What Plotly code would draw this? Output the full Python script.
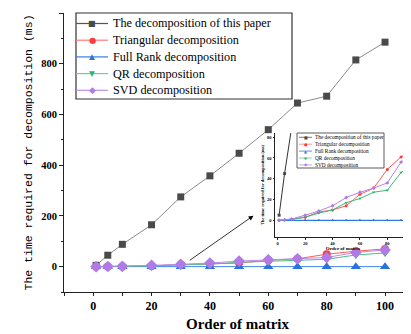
import plotly.graph_objects as go

# ---------------- data ----------------
order = [1, 5, 10, 20, 30, 40, 50, 60, 70, 80, 90, 100]
paper_method = [5, 45, 88, 165, 275, 358, 447, 540, 645, 672, 815, 885]
triangular = [0, 0.3, 1, 3, 8, 10, 14, 25, 31, 49, 61, 70]
full_rank = [0, 0, 0, 0, 0, 0, 0, 0, 0, 0, 0, 0]
qr = [0, 0.3, 1, 3, 7, 10, 17, 21, 27, 29, 46, 54]
svd = [0, 0.5, 1.3, 5, 9, 14, 22, 27, 31, 36, 56, 66]

names = ["The decomposition of this paper", "Triangular decomposition",
         "Full Rank decomposition", "QR decomposition", "SVD decomposition"]
series = [paper_method, triangular, full_rank, qr, svd]
colors = ["#4a4a4a", "#ff3b3b", "#2a72dc", "#2fb56f", "#b27ae6"]
line_colors = ["#8a8a8a", "#ff5a5a", "#3f86e8", "#4cc185", "#b98cec"]
legend_line_colors = ["#555555", "#ff7a7a", "#3a7be0", "#6ccf9c", "#b890ea"]
inset_line_colors = ["#333333", "#ff5a5a", "#2f7ae6", "#3dbb78", "#b585ea"]
symbols = ["square", "circle", "triangle-up", "triangle-down", "diamond"]
sizes = [7, 8, 9, 8, 9]
glyphs = ["\u25a0", "\u25cf", "\u25b2", "\u25bc", "\u25c6"]
glyph_scale = [1.0, 1.05, 0.95, 0.95, 1.1]

x_ticks = [0, 20, 40, 60, 80, 100]
y_ticks = [0, 200, 400, 600, 800, 1000]
inset_x_ticks = [0, 20, 40, 60, 80]
inset_y_ticks = [0, 20, 40, 60, 80]

SERIF = "Liberation Serif"
# the page body has an 8px margin, so the figure is drawn 8px smaller
BODY = 8
REF_W, REF_H = 411, 334
W, H = REF_W - BODY, REF_H - BODY
ML, MR, MT, MB = 64 - BODY, 0, 13 - BODY, 42
PW, PH = W - ML - MR, H - MT - MB


def px(x):  # reference pixel -> paper
    return (x - BODY - ML) / PW


def py(y):
    return (H - MB - (y - BODY)) / PH


fig = go.Figure()

# main traces
for n, s, c, lc, sym, sz in zip(names, series, colors, line_colors, symbols, sizes):
    fig.add_trace(go.Scatter(
        x=order, y=s, name=n, mode="lines+markers", showlegend=False,
        line=dict(color=lc, width=1),
        marker=dict(symbol=sym, size=sz, color=c),
        xaxis="x", yaxis="y"))

# inset traces
for n, s, c, lc, sym in zip(names, series, colors, inset_line_colors, symbols):
    fig.add_trace(go.Scatter(
        x=order, y=s, name=n, mode="lines+markers", showlegend=False,
        line=dict(color=lc, width=1 if c != colors[2] else 1.4),
        marker=dict(symbol=sym, size=3, color=c),
        xaxis="x2", yaxis="y2"))

axis_common = dict(showgrid=False, zeroline=False, showline=True,
                   linecolor="#222", linewidth=1, ticks="outside",
                   tickcolor="#222")

fig.update_layout(
    width=W, height=H,
    margin=dict(l=ML, r=MR, t=MT, b=MB, pad=0),
    paper_bgcolor="white", plot_bgcolor="white",
    font=dict(family=SERIF, color="black"),
    showlegend=False,
    xaxis=dict(domain=[0, 1], range=[-10, 108.9], tickvals=x_ticks,
               ticklen=3, minor=dict(dtick=10, tick0=0, ticklen=3, ticks="outside", tickcolor="#222"),
               tickfont=dict(family=SERIF, size=12, weight="bold"),
               title=dict(text="Order of matrix", standoff=6,
                          font=dict(family=SERIF, size=15, weight="bold")),
               **axis_common),
    yaxis=dict(domain=[0, 1], range=[-100, 1000], tickvals=y_ticks,
               ticklen=4, minor=dict(dtick=100, tick0=0, ticklen=2, ticks="outside", tickcolor="#222"),
               tickfont=dict(family=SERIF, size=10.5, weight="bold"),
               title=dict(text="The time required for decomposition (ms)", standoff=6,
                          font=dict(family="Liberation Mono", size=11.5, color="black")),
               **axis_common),
    xaxis2=dict(domain=[px(275), 1], anchor="y2", range=[-2, 97.3],
                tickvals=inset_x_ticks, ticklen=1.5,
                tickfont=dict(family=SERIF, size=4.5, weight="bold"),
                title=dict(text="Order of matrix", standoff=1,
                           font=dict(family=SERIF, size=5, weight="bold")),
                **axis_common),
    yaxis2=dict(domain=[py(237), py(133)], anchor="x2", range=[-16, 84],
                tickvals=inset_y_ticks, ticklen=1.5,
                tickfont=dict(family=SERIF, size=4.5, weight="bold"),
                title=dict(text="The time required for decomposition (ms)", standoff=2,
                           font=dict(family=SERIF, size=4.5, weight="bold")),
                **axis_common),
)

# arrow from main curves to the inset
fig.add_annotation(x=54.9, y=201, ax=32.6, ay=21, xref="x", yref="y",
                   axref="x", ayref="y", text="", showarrow=True,
                   arrowhead=2, arrowsize=1.2, arrowwidth=0.8, arrowcolor="black")


def draw_legend(box, row0, step, line_x, text_x, font_size, glyph_size, border, lw):
    x0, y0, x1, y1 = box
    fig.add_shape(type="rect", xref="paper", yref="paper",
                  x0=px(x0), x1=px(x1), y0=py(y1), y1=py(y0),
                  line=dict(color="#333", width=border), fillcolor="white", layer="above")
    for i, (n, c, lc, g, gs) in enumerate(zip(names, colors, legend_line_colors, glyphs, glyph_scale)):
        yy = py(row0 + i * step)
        fig.add_shape(type="line", xref="paper", yref="paper",
                      x0=px(line_x[0]), x1=px(line_x[1]), y0=yy, y1=yy,
                      line=dict(color=lc, width=lw), layer="above")
        fig.add_annotation(x=px((line_x[0] + line_x[1]) / 2), y=yy, xref="paper", yref="paper",
                           text=g, showarrow=False,
                           font=dict(family="DejaVu Sans", size=glyph_size * gs, color=c),
                           xanchor="center", yanchor="middle")
        fig.add_annotation(x=px(text_x), y=yy, xref="paper", yref="paper", text=n,
                           showarrow=False, font=dict(family=SERIF, size=font_size, color="black"),
                           xanchor="left", yanchor="middle")


# main legend
draw_legend((76, 13, 292, 99), 23.5, 16.7, (76, 108), 111, 12.2, 8, 1.2, 1.2)
# inset legend
draw_legend((297, 133, 384, 168), 137.3, 6.9, (299, 312), 313, 5.3, 4, 0.8, 0.8)

fig.write_html("out.html")
